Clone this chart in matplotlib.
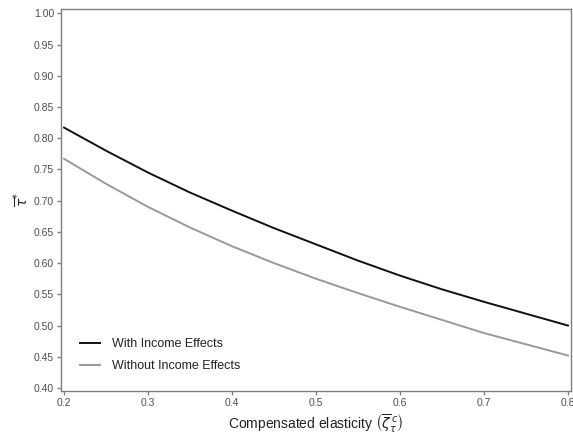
import matplotlib
matplotlib.use("Agg")
import matplotlib.pyplot as plt
import numpy as np

elasticity = [0.20, 0.25, 0.30, 0.35, 0.40, 0.45, 0.50, 0.55, 0.60, 0.65, 0.70, 0.75, 0.80]
with_income = [0.817, 0.780, 0.745, 0.713, 0.684, 0.656, 0.630, 0.604, 0.580, 0.558, 0.538, 0.519, 0.500]
without_income = [0.767, 0.727, 0.690, 0.657, 0.627, 0.600, 0.575, 0.552, 0.530, 0.509, 0.488, 0.470, 0.452]
series_labels = ["With Income Effects", "Without Income Effects"]
xticks = [0.2, 0.3, 0.4, 0.5, 0.6, 0.7, 0.8]
yticks = [0.40, 0.45, 0.50, 0.55, 0.60, 0.65, 0.70, 0.75, 0.80, 0.85, 0.90, 0.95, 1.00]

plt.rcParams['font.family'] = ['Liberation Sans', 'DejaVu Sans']
fig = plt.figure(figsize=(5.73, 4.40), dpi=100)
ax = fig.add_axes([61/573, 1 - 391/440, (571-61)/573, (391-9)/440])

ax.plot(elasticity, with_income, color='#111111', lw=1.4, label=series_labels[0])
ax.plot(elasticity, without_income, color='#999999', lw=1.4, label=series_labels[1])

ax.set_xlim(0.1964, 0.8036)
ax.set_ylim(0.3952, 1.0069)
ax.set_xticks(xticks)
ax.set_xticklabels([f"{v:g}" for v in xticks])
ax.set_yticks(yticks)
ax.set_yticklabels([f"{v:.2f}" for v in yticks])

for s in ax.spines.values():
    s.set_color('#7f7f7f')
    s.set_linewidth(1.0)
ax.tick_params(axis='both', colors='#7f7f7f', labelcolor='#4d4d4d', labelsize=7.5,
               length=3, width=1.0, direction='out', pad=2)

ax.set_xlabel(r'Compensated elasticity $\left(\overline{\zeta}^{\,c}_{\tau}\right)$',
              fontsize=10, color='#222222', labelpad=3)
ax.set_ylabel(r'$\overline{\tau}^{*}$', fontsize=10, color='#222222', labelpad=2)

leg = ax.legend(loc='lower left', bbox_to_anchor=(0.015, 0.02), frameon=False,
                fontsize=9, handlelength=1.6, handletextpad=1.0, labelspacing=0.8)
for t in leg.get_texts():
    t.set_color('#222222')

fig.savefig('out.png', dpi=100)
